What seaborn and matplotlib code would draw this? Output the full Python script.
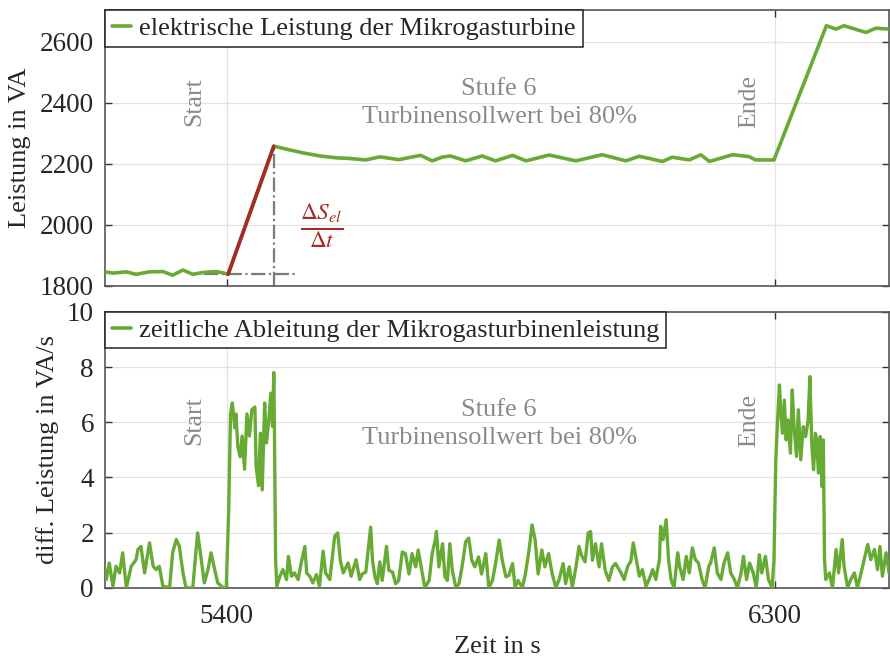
"""
Mikrogasturbine Stufe 6 - Leistung und zeitliche Ableitung.
"""
import pandas as pd
import matplotlib
matplotlib.use("Agg")
import matplotlib.pyplot as plt
import seaborn as sns

# ---- data (time in s) ----
power_before = [(5200, 1846), (5213, 1842), (5235, 1846), (5251, 1838), (5273, 1846),
                (5295, 1847), (5311, 1835), (5328, 1852), (5344, 1838), (5361, 1844),
                (5382, 1847), (5393, 1843), (5402, 1838)]
power_stage = [(5477, 2258), (5503, 2246), (5525, 2236), (5553, 2226), (5579, 2220),
               (5600, 2218), (5628, 2213), (5651, 2223), (5682, 2214), (5718, 2228),
               (5737, 2210), (5753, 2222), (5767, 2226), (5792, 2210), (5819, 2226),
               (5841, 2210), (5869, 2228), (5891, 2210), (5929, 2229), (5973, 2210),
               (6016, 2230), (6055, 2210), (6077, 2225), (6115, 2208), (6131, 2222),
               (6159, 2213), (6178, 2230), (6192, 2208), (6230, 2230), (6257, 2224),
               (6268, 2213), (6298, 2213)]
power_after = [(6384, 2653), (6400, 2642), (6413, 2653), (6449, 2631), (6465, 2645),
               (6487, 2642)]

deriv_before = [(5200, 0.66), (5202, 0.3), (5207, 0.9), (5213, 0.06), (5218, 0.78),
                (5224, 0.54), (5229, 1.27), (5235, 0.0), (5243, 0.78), (5251, 1.02),
                (5254, 1.39), (5259, 1.5), (5265, 0.54), (5273, 1.63), (5279, 0.78),
                (5284, 0.66), (5289, 0.78), (5295, 0.06), (5306, 0.0), (5311, 1.27),
                (5317, 1.75), (5322, 1.5), (5328, 0.54), (5333, 0.0), (5344, 0.0),
                (5352, 1.99), (5358, 1.02), (5363, 0.18), (5369, 0.66), (5374, 1.27),
                (5380, 0.66), (5385, 0.18), (5394, 0.0), (5399, 0.0)]
deriv_start = [(5403, 2.8), (5406, 6.3), (5409, 6.7), (5413, 5.8), (5415, 6.3),
               (5418, 5.1), (5422, 4.75), (5425, 5.5), (5429, 4.3), (5433, 6.3),
               (5437, 5.5), (5441, 6.45), (5446, 6.55), (5448, 4.4), (5452, 3.7),
               (5455, 5.6), (5458, 3.55), (5462, 6.7), (5465, 5.25), (5469, 6.1),
               (5472, 7.05), (5475, 5.85), (5477, 7.8), (5478, 5.85), (5480, 1.0),
               (5482, 0.06)]
deriv_stage = [(5487, 0.42), (5492, 0.66), (5498, 0.3), (5501, 1.14), (5506, 0.42),
               (5511, 0.54), (5517, 0.3), (5522, 0.9), (5528, 1.5), (5531, 0.54),
               (5536, 0.42), (5541, 0.18), (5547, 0.48), (5552, 0.06), (5558, 1.33),
               (5562, 0.54), (5569, 0.3), (5577, 1.87), (5582, 1.99), (5586, 1.02),
               (5591, 0.54), (5599, 0.9), (5604, 0.42), (5612, 1.02), (5618, 0.3),
               (5622, 0.5), (5628, 0.57), (5632, 1.37), (5636, 2.2), (5639, 1.0),
               (5643, 0.4), (5647, 0.15), (5651, 0.94), (5655, 0.27), (5662, 1.5),
               (5666, 0.63), (5672, 0.57), (5677, 0.15), (5682, 0.27), (5688, 1.3),
               (5693, 1.24), (5699, 0.5), (5704, 1.24), (5710, 0.76), (5714, 1.37),
               (5720, 0.63), (5725, 0.0), (5732, 0.27), (5737, 1.24), (5742, 1.73),
               (5744, 2.04), (5748, 0.76), (5754, 1.6), (5758, 0.4), (5762, 0.27),
               (5766, 1.6), (5770, 0.63), (5776, 0.0), (5781, 0.15), (5786, 0.76),
               (5792, 1.67), (5797, 1.8), (5802, 1.0), (5807, 0.76), (5813, 1.12),
               (5818, 0.5), (5825, 1.24), (5830, 0.0), (5836, 0.27), (5841, 0.88),
               (5847, 1.73), (5852, 1.0), (5858, 0.4), (5863, 0.45), (5869, 0.88),
               (5873, 0.02), (5878, 0.27), (5885, 0.0), (5890, 0.5), (5896, 1.37),
               (5901, 2.28), (5906, 1.73), (5911, 0.5), (5917, 1.37), (5922, 0.76),
               (5928, 1.24), (5934, 0.5), (5940, 0.02), (5945, 0.27), (5952, 0.88),
               (5956, 0.15), (5962, 0.76), (5967, 0.02), (5973, 0.76), (5978, 1.5),
               (5982, 1.18), (5988, 0.94), (5993, 1.98), (5997, 2.04), (6000, 1.0),
               (6005, 1.6), (6011, 0.76), (6015, 1.6), (6021, 0.63), (6027, 0.27),
               (6033, 0.76), (6038, 0.88), (6047, 0.54), (6052, 0.3), (6058, 0.78),
               (6063, 0.96), (6067, 1.63), (6071, 1.14), (6077, 0.42), (6082, 0.66),
               (6088, 0.06), (6093, 0.3), (6099, 0.66), (6104, 0.3), (6110, 1.02),
               (6112, 2.23), (6116, 1.75), (6121, 2.47), (6125, 1.02), (6129, 0.3),
               (6134, 0.0), (6140, 1.27), (6143, 0.78), (6149, 0.3), (6154, 1.14),
               (6159, 0.54), (6164, 1.45), (6169, 1.02), (6174, 0.9), (6180, 0.3),
               (6185, 0.0), (6191, 0.78), (6194, 0.9), (6200, 1.45), (6205, 0.54),
               (6211, 0.3), (6216, 0.9), (6222, 1.27), (6227, 0.54), (6233, 0.3),
               (6238, 0.0), (6244, 0.54), (6248, 1.14), (6253, 0.3), (6258, 0.9),
               (6264, 0.54), (6269, 0.0), (6274, 1.2), (6278, 0.54), (6284, 1.14),
               (6289, 0.3), (6295, 0.0)]
deriv_end = [(6298, 1.02), (6301, 4.64), (6304, 6.08), (6307, 7.35), (6309, 6.45),
             (6312, 5.6), (6315, 6.8), (6318, 5.36), (6321, 6.08), (6325, 4.88),
             (6328, 7.17), (6331, 5.84), (6335, 4.76), (6338, 6.45), (6342, 4.64),
             (6346, 5.84), (6350, 5.48), (6354, 6.08), (6357, 7.65), (6360, 5.24),
             (6363, 4.28), (6366, 5.6), (6368, 5.36), (6371, 4.16), (6374, 5.48),
             (6377, 3.67), (6379, 5.36), (6381, 1.02), (6383, 0.3)]
deriv_after = [(6389, 0.54), (6394, 0.0), (6400, 1.39), (6404, 0.54), (6410, 1.75),
               (6413, 0.78), (6419, 0.0), (6424, 0.3), (6430, 0.54), (6435, 0.0),
               (6441, 0.54), (6446, 1.02), (6452, 1.57), (6457, 1.02), (6463, 1.39),
               (6468, 0.66), (6472, 1.5), (6476, 0.42), (6482, 1.27), (6487, 0.54)]

ramp_start = (5402, 1838)
ramp_end = (5477, 2258)
x_ticks = [5400, 6300]

GREEN = "#67ab35"
RED = "#a82a26"
GRAY_TXT = "#8a8a8a"
DARK = "#262626"

power = pd.DataFrame(power_before + power_stage + power_after, columns=["t", "S"])
deriv = pd.DataFrame(deriv_before + deriv_start + deriv_stage + deriv_end + deriv_after,
                     columns=["t", "dS"])

sns.set_theme(style="ticks")
plt.rcParams["font.family"] = ["Liberation Serif", "DejaVu Serif"]
plt.rcParams["mathtext.fontset"] = "stix"
plt.rcParams["text.color"] = DARK
plt.rcParams["axes.labelcolor"] = DARK

fig, (ax1, ax2) = plt.subplots(2, 1, figsize=(8.9, 6.59), dpi=100, sharex=True)
fig.subplots_adjust(left=0.118, right=0.999, top=0.985, bottom=0.108, hspace=0.094)

sns.lineplot(data=power, x="t", y="S", ax=ax1, color=GREEN, lw=2.6, sort=False,
             estimator=None, label="elektrische Leistung der Mikrogasturbine", zorder=3)
sns.lineplot(data=deriv, x="t", y="dS", ax=ax2, color=GREEN, lw=2.4, sort=False,
             estimator=None, label="zeitliche Ableitung der Mikrogasturbinenleistung",
             zorder=3)

# slope construction
ax1.plot([ramp_start[0] - 40, ramp_end[0] + 36], [ramp_start[1]] * 2, ls="-.",
         color="#7a7a7a", lw=1.6, zorder=2)
ax1.plot([ramp_end[0]] * 2, [1800, ramp_end[1]], ls="-.", color="#7a7a7a", lw=1.6,
         zorder=2)
ax1.plot([ramp_start[0], ramp_end[0]], [ramp_start[1], ramp_end[1]], color=RED, lw=2.6,
         zorder=4)
ax1.text(5555, 1997, r"$\frac{\Delta S_{el}}{\Delta t}$", color=RED, fontsize=24,
         ha="center", va="center")

for ax, y_mark, y_txt in [(ax1, 2404, 2400), (ax2, 6.05, 5.94)]:
    ax.text(5347, y_mark, "Start", rotation=90, color=GRAY_TXT, fontsize=18.5,
            ha="center", va="center")
    ax.text(6258, y_mark, "Ende", rotation=90, color=GRAY_TXT, fontsize=18.5,
            ha="center", va="center")
    ax.text(5847, y_txt, "Stufe 6\nTurbinensollwert bei 80%", color=GRAY_TXT,
            fontsize=19, ha="center", va="center", linespacing=1.38)

ax1.set_ylim(1800, 2705)
ax1.set_yticks([1800, 2000, 2200, 2400, 2600])
ax2.set_ylim(0, 10)
ax2.set_yticks([0, 2, 4, 6, 8, 10])
ax2.set_xlim(5200, 6487)
ax2.set_xticks(x_ticks)

ax1.set_ylabel("Leistung in VA", fontsize=19, labelpad=6)
ax2.set_ylabel("diff. Leistung in VA/s", fontsize=19, labelpad=6)
ax2.set_xlabel("Zeit in s", fontsize=19, labelpad=5)
ax1.set_xlabel("")

for ax in (ax1, ax2):
    ax.grid(True, color="#e3e3e3", lw=0.9, zorder=0)
    ax.set_axisbelow(True)
    ax.tick_params(direction="in", length=5, width=1, labelsize=19.5, colors="#333333",
                   labelcolor=DARK, top=True, right=True)
    ax.tick_params(axis="y", pad=8)
    ax.tick_params(axis="x", pad=12)
    for sp in ax.spines.values():
        sp.set_visible(True)
        sp.set_color("#555555")
        sp.set_linewidth(1.2)
    leg = ax.legend(loc="upper left", borderaxespad=0, fancybox=False,
                    edgecolor="#222222", framealpha=1, fontsize=19, handlelength=0.75,
                    handletextpad=0.3, borderpad=0.25)
    leg.get_frame().set_linewidth(1.1)
    for line in leg.get_lines():
        line.set_linewidth(2.6)
ax1.tick_params(labelbottom=False)

fig.savefig("out.png", dpi=100)
